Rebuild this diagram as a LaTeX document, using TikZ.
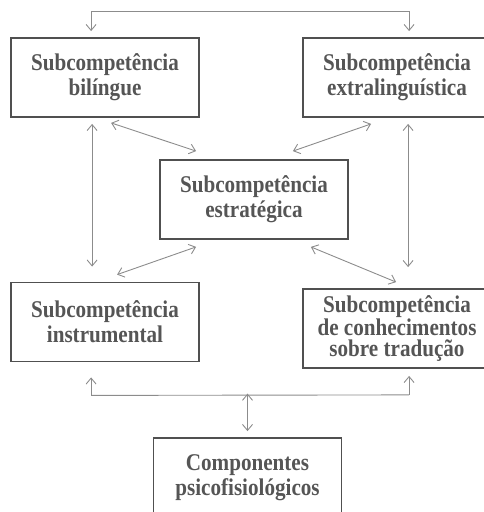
\documentclass[tikz,border=0pt]{standalone}
\usepackage{fontspec}
\setmainfont{Liberation Serif}[FakeStretch=0.88]
\usetikzlibrary{arrows.meta,calc}
\definecolor{boxline}{HTML}{505050}
\definecolor{boxtext}{HTML}{555555}
\definecolor{link}{HTML}{8C8C8C}
\tikzset{
  compbox/.style={draw=boxline, line width=1.8pt, fill=white, text=boxtext,
    minimum width=188pt, minimum height=79pt, inner sep=0pt, align=center,
    font=\fontsize{24}{25}\selectfont\bfseries},
  % a little more room above the first line of the top-row boxes
  toprow/.style={execute at begin node={\rule{0pt}{27pt}}},
  link/.style={draw=link, line width=0.9pt,
    {Straight Barb[length=6pt,width=10pt]}-{Straight Barb[length=6pt,width=10pt]}},
  linkend/.style={draw=link, line width=0.9pt,
    -{Straight Barb[length=6pt,width=10pt]}}
}
\begin{document}
\begin{tikzpicture}[x=1pt,y=-1pt]
\useasboundingbox (0,0) rectangle (484,512);

% competence boxes
\node[compbox, toprow] (bil) at (105,77.5) {Subcompetência\\bilíngue};
\node[compbox, toprow] (ext) at (397,77.5) {Subcompetência\\extralinguística};
\node[compbox] (est) at (254,199.5) {Subcompetência\\estratégica};
\node[compbox] (ins) at (105,322) {Subcompetência\\instrumental};
\node[compbox, font=\fontsize{24}{21.5}\selectfont\bfseries] (con) at (397,328.5)
  {Subcompetência\\de conhecimentos\\sobre tradução};
\node[compbox] (psi) at (247.5,477.5) {Componentes\\psicofisiológicos};

% link across the top
\coordinate (tl) at ($(bil.north west)+(81,-26)$);
\coordinate (tr) at ($(ext.north west)+(107,-26)$);
\draw[link] ($(bil.north west)+(81,-6)$) -- (tl) -- (tr) -- ($(ext.north west)+(107,-6)$);

% vertical links
\draw[link] ($(bil.south west)+(82,6)$) -- ($(ins.north west)+(82,-15)$);
\draw[link] ($(ext.south west)+(106,6)$) -- ($(con.north west)+(106,-21)$);

% diagonal links to the strategic subcompetence
\draw[link] ($(bil.south west)+(101,5)$) -- ($(est.north west)+(37,-8)$);
\draw[link] ($(ext.south west)+(69,6)$) -- ($(est.north east)+(-56,-8)$);
\draw[link] ($(est.south west)+(37,7)$) -- ($(ins.north west)+(107,-7)$);
\draw[link] ($(est.south east)+(-38,7)$) -- ($(con.north west)+(94,-6)$);

% psycho-physiological components
\coordinate (bl) at ($(ins.south west)+(81,33)$);
\coordinate (br) at ($(con.south west)+(107,26)$);
\coordinate (bm) at ($(psi.north)+(0,-43.5)$);
\draw[linkend] (bl) -- ($(ins.south west)+(81,15)$);
\draw[linkend] (br) -- ($(con.south west)+(107,7)$);
\draw[draw=link, line width=0.9pt] (bl) -- (br);
\draw[link] (bm) -- ($(psi.north)+(0,-6)$);
\end{tikzpicture}
\end{document}
